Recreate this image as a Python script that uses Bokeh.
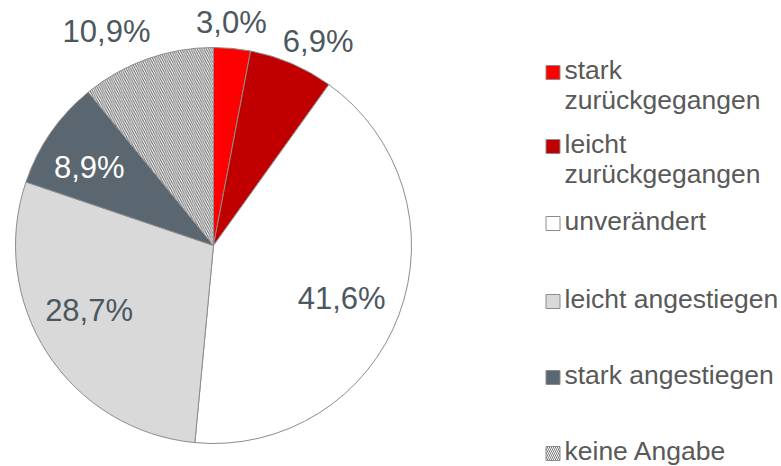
import math
from bokeh.plotting import figure
from bokeh.models import Range1d, ColumnDataSource
from bokeh.core.properties import value
from bokeh.embed import file_html
from bokeh.resources import INLINE

# ---- data ----
categories = ["stark\nzurückgegangen", "leicht\nzurückgegangen", "unverändert",
              "leicht angestiegen", "stark angestiegen", "keine Angabe"]
shares = [3.0, 6.9, 41.6, 28.7, 8.9, 10.9]
labels = ["3,0%", "6,9%", "41,6%", "28,7%", "8,9%", "10,9%"]

# ---- styles / layout ----
colors = ["#FF0000", "#C00000", "#FFFFFF", "#D9D9D9", "#5B6770", "#FFFFFF"]
hatches = [" ", " ", " ", " ", " ", "\\"]
label_colors = ["#4B5860", "#4B5860", "#4B5860", "#4B5860", "#FFFFFF", "#4B5860"]
label_radius = [1.13, 1.16, 0.70, 0.71, 0.74, 1.21]   # relative to pie radius
label_turn = [-0.8, 3.9, 1.8, 5.2, -2.7, -6.9]          # degrees nudge
legend_baselines = [79, 153, 230, 308, 384, 460]        # page px
line_gap = 30
legend_font_px = 26.5

W, H = 781, 466
PAGE_H = 466
cx, cy, R = 213, PAGE_H - 245, 198

p = figure(width=W, height=H, x_range=Range1d(0, W), y_range=Range1d(0, H),
           output_backend="svg", toolbar_location=None, min_border=0)
p.axis.visible = False
p.grid.visible = False
p.outline_line_color = None
p.background_fill_color = "#FFFFFF"

total = sum(shares)
cum = [0.0]
for s in shares:
    cum.append(cum[-1] + s)

starts = [math.pi / 2 - 2 * math.pi * cum[i + 1] / total for i in range(len(shares))]
ends = [math.pi / 2 - 2 * math.pi * cum[i] / total for i in range(len(shares))]

src = ColumnDataSource(dict(start=starts, end=ends, color=colors, hatch=hatches))
p.wedge(x=cx, y=cy, radius=R, start_angle="start", end_angle="end", source=src,
        fill_color="color", line_color="#8C8C8C", line_width=1,
        hatch_pattern="hatch", hatch_color="#666666", hatch_scale=4.5, hatch_weight=1)

lx, ly = [], []
for i, s in enumerate(shares):
    t = math.radians(360 * (cum[i] + s / 2) / total + label_turn[i])
    r = R * label_radius[i]
    lx.append(cx + r * math.sin(t))
    ly.append(cy + r * math.cos(t))
lsrc = ColumnDataSource(dict(x=lx, y=ly, text=labels, color=label_colors))
p.text(x="x", y="y", text="text", source=lsrc, text_color="color",
       text_font=value("Liberation Sans"), text_font_size="31px",
       text_align="center", text_baseline="middle")

# ---- legend ----
sq = 14
sq_x = 552.5
mid_shift = 0.3465 * legend_font_px  # baseline -> middle of em box
sx, sy, tx, ty, tt = [], [], [], [], []
for i, cat in enumerate(categories):
    b = legend_baselines[i]
    sx.append(sq_x)
    sy.append(PAGE_H - (b - sq / 2))
    for j, line in enumerate(cat.split("\n")):
        tx.append(564)
        ty.append(PAGE_H - (b + j * line_gap) + mid_shift)
        tt.append(line)
ssrc = ColumnDataSource(dict(x=sx, y=sy, color=colors, hatch=hatches))
p.rect(x="x", y="y", width=sq, height=sq, source=ssrc, fill_color="color",
       line_color="#8C8C8C", line_width=1, hatch_pattern="hatch",
       hatch_color="#777777", hatch_scale=4, hatch_weight=1)
tsrc = ColumnDataSource(dict(x=tx, y=ty, text=tt))
p.text(x="x", y="y", text="text", source=tsrc, text_color="#595959",
       text_font=value("Liberation Sans"), text_font_size=f"{legend_font_px}px",
       text_align="left", text_baseline="middle")

open("out.html", "w").write(file_html(p, INLINE))
